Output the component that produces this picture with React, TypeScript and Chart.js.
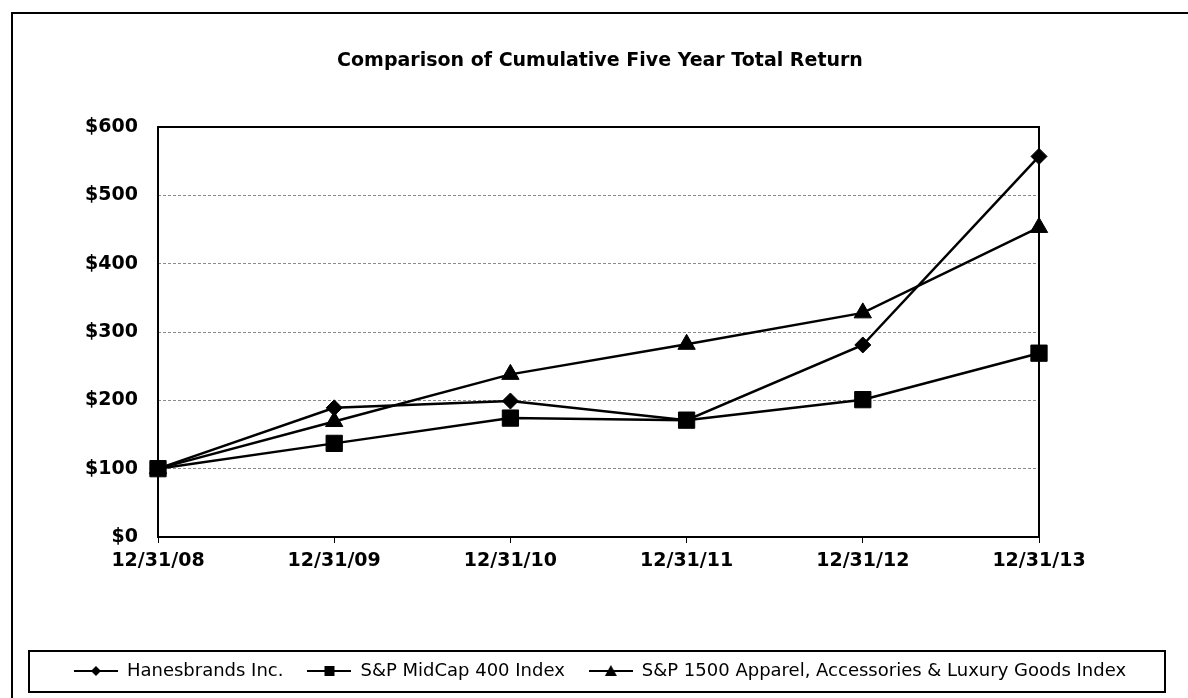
import React, { useEffect, useRef } from 'react';
import { Chart, registerables } from 'chart.js';

Chart.register(...registerables);

const categories = ['12/31/08', '12/31/09', '12/31/10', '12/31/11', '12/31/12', '12/31/13'];
const hanesbrands = [100, 189, 199, 171, 281, 557];
const midcap400 = [100, 137, 174, 171, 201, 269];
const apparel1500 = [100, 169, 238, 282, 328, 453];
const seriesNames = [
  'Hanesbrands Inc.',
  'S&P MidCap 400 Index',
  'S&P 1500 Apparel, Accessories & Luxury Goods Index',
];
const yMin = 0;
const yMax = 600;
const yStep = 100;
const titleText = 'Comparison of Cumulative Five Year Total Return';

const W = 1188;
const H = 698;

function legendIcon(kind: 'diamond' | 'square' | 'triangle'): HTMLCanvasElement {
  const c = document.createElement('canvas');
  c.width = 44;
  c.height = 18;
  const g = c.getContext('2d')!;
  g.strokeStyle = '#000';
  g.fillStyle = '#000';
  g.lineWidth = 2;
  g.beginPath();
  g.moveTo(0, 9);
  g.lineTo(44, 9);
  g.stroke();
  g.beginPath();
  if (kind === 'diamond') {
    g.moveTo(22, 4);
    g.lineTo(27, 9);
    g.lineTo(22, 14);
    g.lineTo(17, 9);
  } else if (kind === 'square') {
    g.rect(17, 4, 10, 10);
  } else {
    g.moveTo(22, 3);
    g.lineTo(28, 14);
    g.lineTo(16, 14);
  }
  g.closePath();
  g.fill();
  return c;
}

const framePlugin = {
  id: 'frames',
  beforeDraw(chart: any) {
    const { ctx } = chart;
    ctx.save();
    ctx.fillStyle = '#fff';
    ctx.fillRect(0, 0, chart.width, chart.height);
    ctx.restore();
  },
  afterDraw(chart: any) {
    const { ctx, chartArea: a } = chart;
    ctx.save();
    ctx.strokeStyle = '#000';
    ctx.lineWidth = 2;
    ctx.strokeRect(a.left, a.top, a.right - a.left, a.bottom - a.top);
    ctx.strokeRect(12, 13, chart.width, chart.height);
    const lg = chart.legend;
    ctx.strokeRect(29, lg.top + 13, 1136, 41);
    ctx.restore();
  },
};

export default function App() {
  const ref = useRef<HTMLCanvasElement | null>(null);

  useEffect(() => {
    document.body.style.margin = '0';
    const canvas = ref.current!;
    const icons = [legendIcon('diamond'), legendIcon('square'), legendIcon('triangle')];
    const common = {
      borderColor: '#000',
      backgroundColor: '#000',
      pointBackgroundColor: '#000',
      pointBorderColor: '#000',
      borderWidth: 2.5,
      pointBorderWidth: 1,
      tension: 0,
      fill: false,
    };
    const chart = new Chart(canvas, {
      type: 'line',
      data: {
        labels: categories,
        datasets: [
          { ...common, label: seriesNames[0], data: hanesbrands, pointStyle: 'rectRot', pointRadius: 8 },
          { ...common, label: seriesNames[1], data: midcap400, pointStyle: 'rect', pointRadius: 11.5 },
          { ...common, label: seriesNames[2], data: apparel1500, pointStyle: 'triangle', pointRadius: 10 },
        ],
      },
      options: {
        animation: false,
        responsive: false,
        maintainAspectRatio: false,
        layout: { padding: { left: 12, top: 0, right: 0, bottom: 8 } },
        plugins: {
          title: {
            display: true,
            text: titleText,
            color: '#000',
            font: { family: 'DejaVu Sans', size: 19, weight: 'bold', lineHeight: 1.2 },
            padding: { top: 50, bottom: 54.2 },
          },
          legend: {
            display: true,
            position: 'bottom',
            labels: {
              color: '#000',
              font: { family: 'DejaVu Sans', size: 18 },
              padding: 24,
              usePointStyle: true,
              pointStyleWidth: 44,
              generateLabels: (ch: any) => {
                const items = Chart.defaults.plugins.legend.labels.generateLabels(ch);
                return items.map((it: any, i: number) => ({ ...it, pointStyle: icons[i] }));
              },
            },
          },
          tooltip: { enabled: false },
        },
        scales: {
          x: {
            type: 'category',
            offset: false,
            grid: {
              drawOnChartArea: false,
              drawTicks: true,
              tickLength: 6,
              color: '#000',
              lineWidth: 1,
            },
            border: { display: false },
            ticks: {
              color: '#000',
              padding: 7,
              maxRotation: 0,
              autoSkip: false,
              font: { family: 'DejaVu Sans', size: 19, weight: 'bold' },
            },
            afterFit: (s: any) => {
              s.height = 101;
            },
          },
          y: {
            min: yMin,
            max: yMax,
            grid: {
              drawTicks: false,
              color: '#8a8a8a',
              lineWidth: 1,
            },
            border: { display: false, dash: [3, 2] },
            ticks: {
              stepSize: yStep,
              color: '#000',
              padding: 20,
              font: { family: 'DejaVu Sans', size: 19, weight: 'bold' },
              callback: (v: any) => '$' + v,
            },
            afterFit: (s: any) => {
              s.width = 146;
            },
          },
          y2: {
            position: 'right',
            display: true,
            min: yMin,
            max: yMax,
            grid: { display: false, drawOnChartArea: false },
            border: { display: false },
            ticks: { display: false },
            afterFit: (s: any) => {
              s.width = 149;
            },
          },
        },
      },
      plugins: [framePlugin],
    });
    return () => chart.destroy();
  }, []);

  return (
    <div style={{ width: W, height: H }}>
      <canvas ref={ref} width={W} height={H} style={{ display: 'block' }} />
    </div>
  );
}
